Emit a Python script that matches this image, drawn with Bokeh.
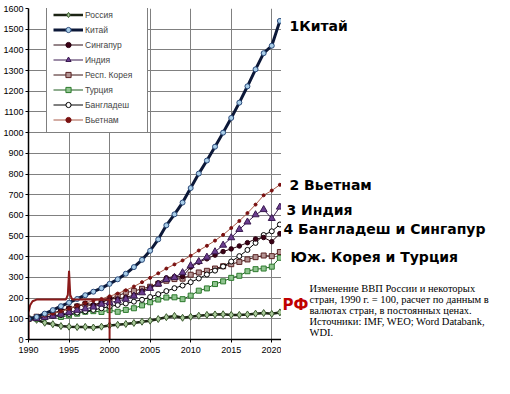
from bokeh.plotting import figure
from bokeh.layouts import row
from bokeh.models import Range1d, FixedTicker, SingleIntervalTicker, Label, Legend
from bokeh.embed import file_html
from bokeh.resources import INLINE

years = list(range(1990, 2022))

russia = [100, 95, 81, 74, 65, 62, 60, 61, 58, 62, 68, 71, 75, 80, 86, 91,
          99, 108, 114, 105, 110, 115, 119, 121, 122, 119, 119, 121, 125, 128, 124, 131]
china = [100, 109, 125, 142, 161, 178, 196, 214, 231, 248, 269, 291, 318, 350, 385, 429,
         484, 552, 605, 662, 732, 802, 865, 932, 1000, 1071, 1145, 1224, 1306, 1384, 1420, 1540]
singapore = [100, 107, 114, 127, 141, 151, 162, 175, 168, 178, 198, 196, 204, 214, 234, 251,
             274, 298, 304, 304, 350, 374, 390, 408, 425, 438, 452, 468, 486, 493, 473, 512]
india = [100, 101, 107, 113, 122, 131, 141, 148, 157, 171, 178, 187, 195, 210, 226, 247,
         268, 290, 300, 323, 357, 377, 398, 424, 456, 492, 532, 568, 603, 628, 585, 640]
korea = [100, 110, 117, 125, 136, 149, 160, 170, 161, 179, 196, 211, 227, 234, 245, 255,
         269, 284, 292, 294, 313, 324, 332, 343, 354, 364, 375, 387, 398, 406, 403, 423]
turkey = [100, 101, 107, 115, 109, 117, 125, 134, 137, 133, 142, 134, 143, 151, 165, 180,
          193, 203, 204, 195, 212, 236, 247, 268, 281, 298, 308, 330, 340, 343, 352, 395]
bangladesh = [100, 103, 108, 113, 118, 124, 130, 136, 143, 151, 159, 167, 174, 183, 192, 205,
              219, 234, 248, 261, 277, 295, 314, 333, 353, 377, 403, 433, 467, 505, 523, 556]
vietnam = [100, 106, 115, 125, 136, 149, 163, 176, 187, 196, 209, 222, 238, 256, 277, 298,
           320, 343, 363, 382, 405, 430, 453, 478, 506, 539, 573, 611, 652, 697, 720, 748]

# hand-drawn red "РФ" overlay
rf_x = [1990, 1990, 1990.2, 1990.5, 1991, 1994.6, 1994.85, 1995, 1995.15, 1995.4, 2000, 2000]
rf_y = [0, 130, 165, 185, 193, 193, 215, 332, 215, 193, 193, 0]

x_ticks = [1990, 1995, 2000, 2005, 2010, 2015, 2020]

names = ["Россия", "Китай", "Сингапур", "Индия", "Респ. Корея", "Турция", "Бангладеш", "Вьетнам"]

p = figure(frame_width=253, frame_height=331, output_backend="svg", toolbar_location=None,
           x_range=Range1d(1990, 2021.2), y_range=Range1d(0, 1600),
           min_border_left=21, min_border_right=0, min_border_top=8, min_border_bottom=27)
p.outline_line_color = None
p.background_fill_color = "white"

for ax in (p.xaxis[0], p.yaxis[0]):
    ax.major_label_text_font = "Liberation Sans"
    ax.major_label_text_font_size = "9px"
    ax.major_label_text_color = "black"
    ax.axis_line_color = "black"
    ax.axis_line_width = 1.5
    ax.major_tick_line_color = "black"
    ax.major_tick_in = 0
    ax.major_tick_out = 3
    ax.minor_tick_line_color = None
    ax.major_label_standoff = 1
p.xaxis.major_label_standoff = 4
p.xaxis.ticker = FixedTicker(ticks=x_ticks)
p.yaxis.ticker = SingleIntervalTicker(interval=100)
p.xgrid.ticker = FixedTicker(ticks=x_ticks)
p.ygrid.ticker = SingleIntervalTicker(interval=100)
p.grid.grid_line_color = "#808080"
p.grid.grid_line_width = 1

items = {}

def series(vals, label, lc, lw, marker, size, fill, mline):
    r1 = p.line(years, vals, line_color=lc, line_width=lw)
    r2 = p.scatter(years, vals, marker=marker, size=size, fill_color=fill,
                   line_color=mline, line_width=1)
    items[label] = [r1, r2]

series(russia, "Россия", "#1c2414", 2.5, "diamond", 7, "#a9c99a", "#3b5a2e")
series(turkey, "Турция", "#1f5a1f", 1, "square", 5, "#8fc48f", "#2c7a2c")
series(korea, "Респ. Корея", "#3a1212", 1, "square", 5, "#b39494", "#5a2222")
series(bangladesh, "Бангладеш", "#000000", 1, "circle", 5, "white", "#000000")
series(singapore, "Сингапур", "#2a0a12", 1, "circle", 4.5, "#3a0014", "#2a0010")
series(india, "Индия", "#3a1a50", 1, "triangle", 7, "#6a3d8f", "#3a1a50")
series(vietnam, "Вьетнам", "#a85a48", 1, "circle", 3, "#7a1010", "#7a1010")
series(china, "Китай", "#0c1838", 3, "circle", 5, "#a8cde8", "#2a4a7a")

p.line(rf_x, rf_y, line_color="#8b1a1a", line_width=2)

legend = Legend(items=[(n, items[n]) for n in names], location=(18, 206))
legend.label_text_font = "Liberation Sans"
legend.label_text_font_size = "8.5px"
legend.label_height = 13
legend.glyph_height = 13
legend.glyph_width = 30
legend.label_width = 56
legend.spacing = 2
legend.padding = 6
legend.margin = 0
legend.label_standoff = 2
legend.border_line_color = "black"
legend.border_line_width = 1
legend.background_fill_alpha = 1
p.add_layout(legend, "center")

# annotation panel to the right: x in pixels, y shares the chart's value scale
W2 = 218
q = figure(frame_width=W2, frame_height=331, output_backend="svg", toolbar_location=None,
           x_range=Range1d(0, W2), y_range=p.y_range,
           min_border_left=0, min_border_right=0, min_border_top=8, min_border_bottom=27)
q.axis.visible = False
q.grid.visible = False
q.outline_line_color = None

big = [("1Китай", 8, 1513), ("2 Вьетнам", 8, 749), ("3 Индия", 5, 628),
       ("4 Бангладеш и Сингапур", 2, 535), ("Юж. Корея и Турция", 9, 401)]
for t, x, y in big:
    q.add_layout(Label(x=x, y=y, text=t, text_font="DejaVu Sans", text_font_style="bold",
                       text_font_size="14px", text_color="black", text_baseline="middle"))

q.add_layout(Label(x=1, y=169, text="РФ", text_font="DejaVu Sans", text_font_style="bold",
                   text_font_size="15px", text_color="#c00000", text_baseline="middle"))

note = ["Изменение  ВВП России и некоторых",
        "стран, 1990 г. = 100, расчет по данным в",
        "валютах стран, в постоянных ценах.",
        "Источники: IMF, WEO;  Word Databank,",
        "WDI."]
note_y = [246, 193, 140, 87, 34]
for line, y in zip(note, note_y):
    q.add_layout(Label(x=28, y=y, text=line, text_font="Liberation Serif",
                       text_font_size="10.5px", text_color="black", text_baseline="middle"))

layout = row(p, q, spacing=0)
open("out.html", "w").write(file_html(layout, INLINE))
